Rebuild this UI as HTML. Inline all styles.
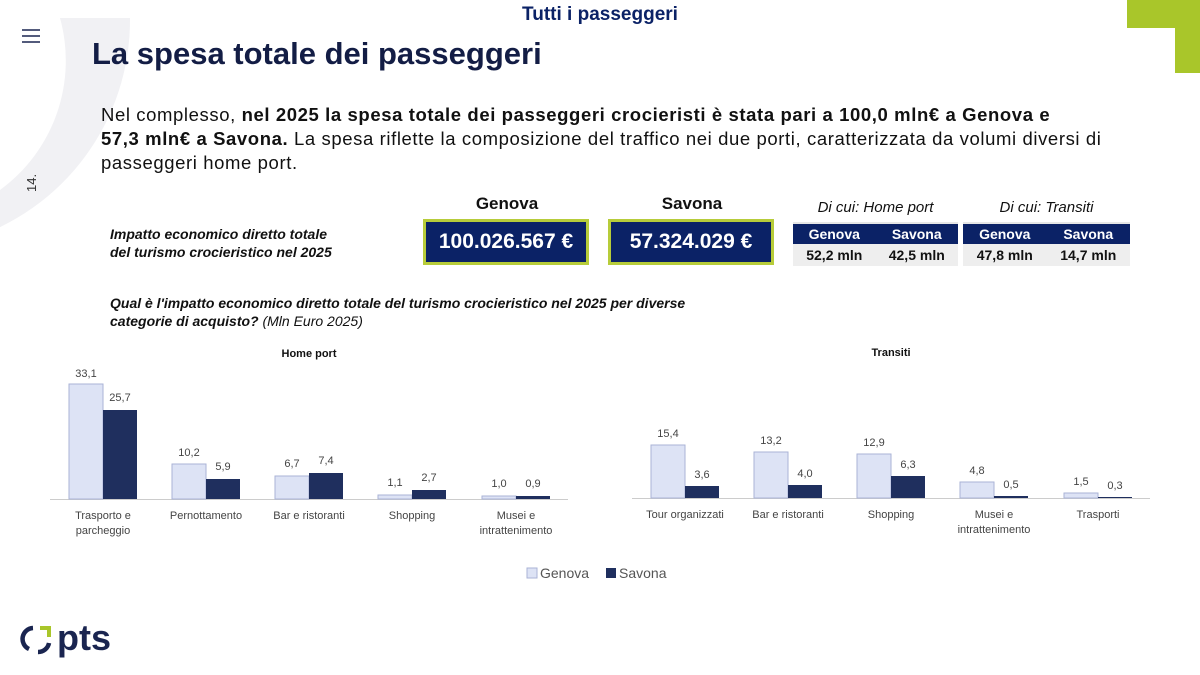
<!DOCTYPE html>
<html><head><meta charset="utf-8"><style>
body{margin:0;width:1200px;height:675px;background:#fff;position:relative;overflow:hidden;font-family:"Liberation Sans",sans-serif;color:#1a2550}
.a{position:absolute}
.box{position:absolute;background:#0b2266;border:3px solid #b7cc3a;color:#fff;font-weight:bold;font-size:21px;display:flex;align-items:center;justify-content:center}
table{border-collapse:collapse;position:absolute;font-size:14px}
th{background:#0b2266;color:#fff;font-weight:bold;padding:0;height:20px;border-top:2px solid #e6e6e6}
td{background:#eeeeee;color:#111;font-weight:bold;padding:0;height:22px;text-align:center}
</style></head><body>
<svg class="a" style="left:0;top:0" width="1200" height="675">
<path d="M60,18 L130,18 A230,230 0 0 1 -33,240 L0,240 L0,190 A160,160 0 0 0 60,18 Z" fill="#f1f1f4"/>
<path d="M1127,0 H1200 V73 H1175 V28 H1127 Z" fill="#a9c62a"/>
<g stroke="#1a2550" stroke-width="1.6"><line x1="22" y1="30" x2="40" y2="30"/><line x1="22" y1="36" x2="40" y2="36"/><line x1="22" y1="42" x2="40" y2="42"/></g>
<g font-family="Liberation Sans" font-size="11" fill="#444" text-anchor="middle">
<text x="309" y="357" font-weight="bold" fill="#111">Home port</text>
<text x="891" y="356" font-weight="bold" fill="#111">Transiti</text>
<line x1="50" y1="499.5" x2="568" y2="499.5" stroke="#ccc"/>
<line x1="632" y1="498.5" x2="1150" y2="498.5" stroke="#ccc"/>
<g fill="#dde3f5" stroke="#aab3d6" stroke-width="1">
<rect x="69" y="384" width="34" height="115"/><rect x="172" y="464" width="34" height="35"/><rect x="275" y="476" width="34" height="23"/><rect x="378" y="495" width="34" height="4"/><rect x="482" y="496" width="34" height="3"/>
<rect x="651" y="445" width="34" height="53"/><rect x="754" y="452" width="34" height="46"/><rect x="857" y="454" width="34" height="44"/><rect x="960" y="482" width="34" height="16"/><rect x="1064" y="493" width="34" height="5"/>
</g>
<g fill="#1f2f5e">
<rect x="103" y="410" width="34" height="89"/><rect x="206" y="479" width="34" height="20"/><rect x="309" y="473" width="34" height="26"/><rect x="412" y="490" width="34" height="9"/><rect x="516" y="496" width="34" height="3"/>
<rect x="685" y="486" width="34" height="12"/><rect x="788" y="485" width="34" height="13"/><rect x="891" y="476" width="34" height="22"/><rect x="994" y="496" width="34" height="2"/><rect x="1098" y="497" width="34" height="1"/>
</g>
<text x="86" y="377">33,1</text><text x="120" y="401">25,7</text><text x="189" y="456">10,2</text><text x="223" y="470">5,9</text><text x="292" y="467">6,7</text><text x="326" y="464">7,4</text><text x="395" y="486">1,1</text><text x="429" y="481">2,7</text><text x="499" y="487">1,0</text><text x="533" y="487">0,9</text>
<text x="668" y="437">15,4</text><text x="702" y="478">3,6</text><text x="771" y="444">13,2</text><text x="805" y="477">4,0</text><text x="874" y="446">12,9</text><text x="908" y="468">6,3</text><text x="977" y="474">4,8</text><text x="1011" y="488">0,5</text><text x="1081" y="485">1,5</text><text x="1115" y="489">0,3</text>
<text x="103" y="519">Trasporto e</text><text x="103" y="534">parcheggio</text><text x="206" y="519">Pernottamento</text><text x="309" y="519">Bar e ristoranti</text><text x="412" y="519">Shopping</text><text x="516" y="519">Musei e</text><text x="516" y="534">intrattenimento</text>
<text x="685" y="518">Tour organizzati</text><text x="788" y="518">Bar e ristoranti</text><text x="891" y="518">Shopping</text><text x="994" y="518">Musei e</text><text x="994" y="533">intrattenimento</text><text x="1098" y="518">Trasporti</text>
</g>
<rect x="527" y="568" width="10" height="10" fill="#dde3f5" stroke="#aab3d6"/>
<text x="540" y="578" font-family="Liberation Sans" font-size="14" fill="#555">Genova</text>
<rect x="606" y="568" width="10" height="10" fill="#1f2f5e"/>
<text x="619" y="578" font-family="Liberation Sans" font-size="14" fill="#555">Savona</text>
<text transform="translate(36,192) rotate(-90)" font-family="Liberation Sans" font-size="13" fill="#333">14.</text>
<g fill="none" stroke="#1a2550" stroke-width="4.5"><path d="M33,628 A11,11 0 0 0 29,649"/><path d="M38,652 A11,11 0 0 0 49,643"/></g>
<path d="M40,626 H51 V637 H47 V630 H40 Z" fill="#a9c62a"/>
<text x="57" y="650" font-family="Liberation Sans" font-size="36" font-weight="bold" fill="#1a2550">pts</text>
</svg>
<div class="a" style="left:0;width:1200px;top:4px;text-align:center;font-size:19px;font-weight:bold;color:#0b2266">Tutti i passeggeri</div>
<div class="a" style="left:92px;top:36px;font-size:31px;font-weight:bold;color:#131d45">La spesa totale dei passeggeri</div>
<div class="a" style="left:101px;top:103px;width:1060px;font-size:18.5px;line-height:24px;color:#111;letter-spacing:0.6px;white-space:nowrap">Nel complesso, <b>nel 2025 la spesa totale dei passeggeri crocieristi è stata pari a 100,0 mln€ a Genova e<br>57,3 mln€ a Savona.</b> La spesa riflette la composizione del traffico nei due porti, caratterizzata da volumi diversi di<br>passeggeri home port.</div>
<div class="a" style="left:110px;top:225px;font-size:14px;font-weight:bold;font-style:italic;line-height:18px;color:#111">Impatto economico diretto totale<br>del turismo crocieristico nel 2025</div>
<div class="a" style="left:424px;top:194px;width:166px;text-align:center;font-size:17px;font-weight:bold;color:#111">Genova</div>
<div class="a" style="left:609px;top:194px;width:166px;text-align:center;font-size:17px;font-weight:bold;color:#111">Savona</div>
<div class="box" style="left:423px;top:219px;width:160px;height:40px">100.026.567 €</div>
<div class="box" style="left:608px;top:219px;width:160px;height:40px">57.324.029 €</div>
<div class="a" style="left:793px;top:199px;width:165px;text-align:center;font-size:15px;font-style:italic;color:#111">Di cui: Home port</div>
<div class="a" style="left:963px;top:199px;width:167px;text-align:center;font-size:15px;font-style:italic;color:#111">Di cui: Transiti</div>
<table style="left:793px;top:222px;width:165px"><tr><th>Genova</th><th>Savona</th></tr><tr><td>52,2 mln</td><td>42,5 mln</td></tr></table>
<table style="left:963px;top:222px;width:167px"><tr><th>Genova</th><th>Savona</th></tr><tr><td>47,8 mln</td><td>14,7 mln</td></tr></table>
<div class="a" style="left:110px;top:294px;font-size:14px;font-style:italic;line-height:18px;color:#111"><b>Qual è l'impatto economico diretto totale del turismo crocieristico nel 2025 per diverse<br>categorie di acquisto?</b> (Mln Euro 2025)</div>
</body></html>
